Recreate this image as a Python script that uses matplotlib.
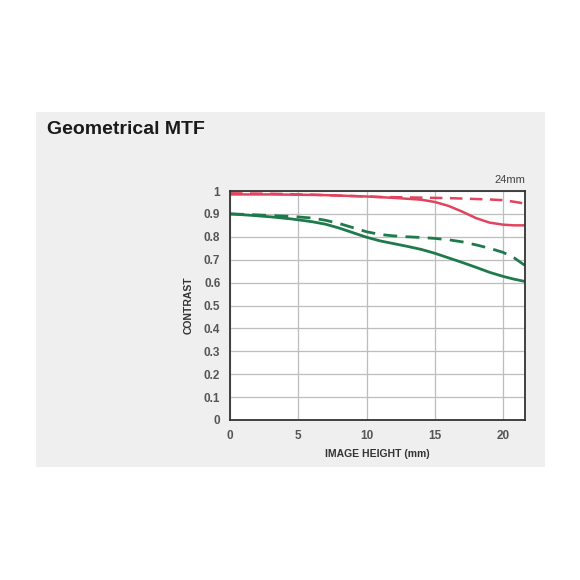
import numpy as np
import matplotlib.pyplot as plt
import matplotlib.patches as mpatches

# image height (mm) sample points
x_pts = [0, 1.5, 3, 4.5, 6, 7, 8, 9, 10, 11, 12, 13, 14, 15,
         16, 17, 18, 19, 20, 20.8, 21.6]

red_solid = [0.985, 0.985, 0.985, 0.984, 0.983, 0.982, 0.980, 0.978, 0.976, 0.973,
             0.970, 0.966, 0.962, 0.952, 0.935, 0.910, 0.882, 0.862, 0.853, 0.850, 0.850]
red_dash = [0.990, 0.989, 0.988, 0.986, 0.984, 0.982, 0.980, 0.978, 0.976, 0.974,
            0.973, 0.972, 0.971, 0.970, 0.969, 0.967, 0.965, 0.963, 0.960, 0.953, 0.945]
green_solid = [0.900, 0.894, 0.887, 0.878, 0.866, 0.855, 0.838, 0.818, 0.798, 0.782,
               0.770, 0.758, 0.745, 0.728, 0.708, 0.688, 0.667, 0.645, 0.627, 0.615, 0.605]
green_dash = [0.900, 0.897, 0.893, 0.889, 0.882, 0.872, 0.858, 0.840, 0.822, 0.810,
              0.804, 0.800, 0.797, 0.793, 0.787, 0.778, 0.765, 0.750, 0.732, 0.708, 0.675]

x_ticks = [0, 5, 10, 15, 20]
y_ticks = [0, 0.1, 0.2, 0.3, 0.4, 0.5, 0.6, 0.7, 0.8, 0.9, 1]
y_labels = ["0", "0.1", "0.2", "0.3", "0.4", "0.5", "0.6", "0.7", "0.8", "0.9", "1"]

RED = "#e0445e"
GREEN = "#1e7a4c"

plt.rcParams['font.family'] = ['Liberation Sans', 'DejaVu Sans']

fig = plt.figure(figsize=(5.8, 5.8), dpi=100)
fig.patch.set_facecolor("white")

# grey panel behind the chart
panel = mpatches.Rectangle((36 / 580, 1 - 467 / 580), (545 - 36) / 580, (467 - 112) / 580,
                           transform=fig.transFigure, facecolor="#efefef", edgecolor="none", zorder=-10)
fig.patches.append(panel)

fig.text(47 / 580, 1 - 130 / 580, "Geometrical MTF", fontsize=14, fontweight="bold",
         color="#1a1a1a", va="center", ha="left")

ax = fig.add_axes([230 / 580, 1 - 420 / 580, 295 / 580, 229 / 580])
ax.set_facecolor("white")

ax.plot(x_pts, red_solid, color=RED, lw=1.8)
ax.plot(x_pts, red_dash, color=RED, lw=1.8, dashes=(5, 3))
ax.plot(x_pts, green_solid, color=GREEN, lw=2.0)
ax.plot(x_pts, green_dash, color=GREEN, lw=2.0, dashes=(5, 3))

ax.set_xlim(0, 21.6)
ax.set_ylim(0, 1)
ax.set_xticks(x_ticks)
ax.set_yticks(y_ticks)
ax.set_yticklabels(y_labels)
ax.grid(True, color="#bdbdbd", lw=0.9)
ax.set_axisbelow(True)
for s in ax.spines.values():
    s.set_color("#333333")
    s.set_linewidth(1.3)
ax.tick_params(length=0, labelsize=8.5, colors="#555555", pad=7)
for lbl in ax.get_xticklabels() + ax.get_yticklabels():
    lbl.set_fontweight("bold")

ax.set_xlabel("IMAGE HEIGHT (mm)", fontsize=7.5, fontweight="bold", color="#333333", labelpad=5)
ax.set_ylabel("CONTRAST", fontsize=7.5, fontweight="bold", color="#333333", labelpad=7)
ax.text(1.0, 1.025, "24mm", transform=ax.transAxes, ha="right", va="bottom",
        fontsize=8, color="#444444")

fig.savefig("out.png", dpi=100, facecolor="white")
